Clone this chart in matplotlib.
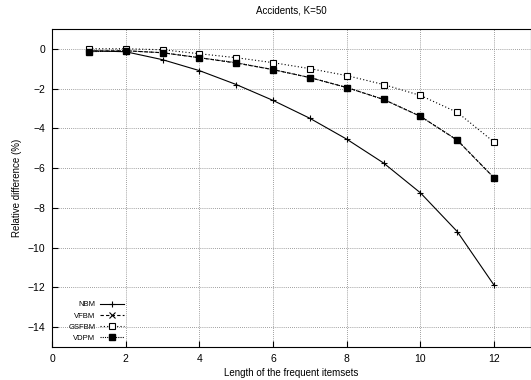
import matplotlib
matplotlib.use('Agg')
import matplotlib.pyplot as plt

lengths = [1, 2, 3, 4, 5, 6, 7, 8, 9, 10, 11, 12]
nbm = [-0.1, -0.15, -0.55, -1.1, -1.8, -2.6, -3.5, -4.55, -5.75, -7.25, -9.2, -11.9]
vfbm = [-0.12, -0.1, -0.2, -0.45, -0.72, -1.05, -1.45, -1.95, -2.55, -3.4, -4.6, -6.5]
gsfbm = [0.0, 0.0, -0.05, -0.25, -0.45, -0.7, -1.0, -1.35, -1.8, -2.35, -3.2, -4.7]
vdpm = [-0.15, -0.1, -0.2, -0.45, -0.7, -1.05, -1.45, -1.95, -2.55, -3.4, -4.6, -6.5]

plt.rcParams['font.family'] = ['Liberation Sans', 'DejaVu Sans']

fig = plt.figure(figsize=(5.31, 3.8), dpi=100)
ax = fig.add_axes([0.098, 0.087, 0.902, 0.837])

ax.plot(lengths, nbm, color='black', lw=0.8, ls='-', marker='+', ms=5, mew=0.8, label='NBM')
ax.plot(lengths, vfbm, color='black', lw=0.8, ls=(0, (3, 2)), marker='x', ms=4, mew=0.8, label='VFBM')
ax.plot(lengths, gsfbm, color='black', lw=0.8, ls=(0, (1, 2)), marker='s', ms=4.5, mfc='white', mew=0.8, label='GSFBM')
ax.plot(lengths, vdpm, color='black', lw=0.8, ls=(0, (1, 1)), marker='s', ms=4.5, mfc='black', label='VDPM')

ax.set_xlim(0, 13)
ax.set_ylim(-15, 1)
ax.set_xticks(range(0, 13, 2))
ax.set_yticks(range(-14, 1, 2))
ax.grid(True, color='grey', ls=(0, (1, 1.5)), lw=0.6)
ax.tick_params(labelsize=7.5, direction='in', length=4, pad=5)
for s in ax.spines.values():
    s.set_linewidth(0.8)

ax.set_xlabel('Length of the frequent itemsets', fontsize=7, labelpad=3)
ax.set_ylabel('Relative difference (%)', fontsize=7, labelpad=4)
ax.set_title('Accidents, K=50', fontsize=7, pad=11)

ax.legend(loc='lower left', frameon=False, fontsize=5.5, markerfirst=False,
          handlelength=3.2, labelspacing=0.5, borderpad=0, handletextpad=0.6,
          bbox_to_anchor=(0.026, 0.004))

fig.savefig('out.png', dpi=100)
